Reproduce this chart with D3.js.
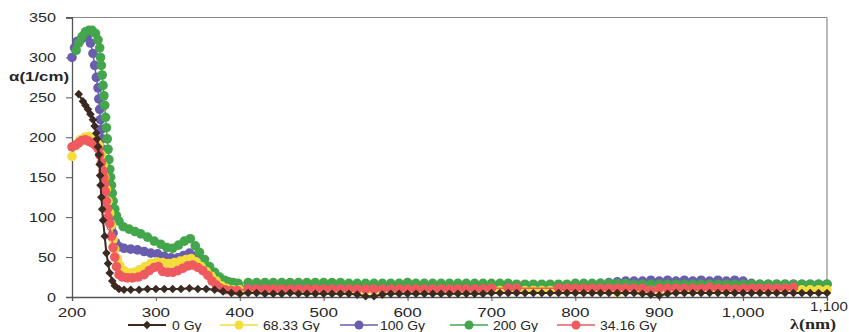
<!DOCTYPE html>
<html>
<head>
<meta charset="utf-8">
<script src="https://cdn.jsdelivr.net/npm/d3@7"></script>
<style>
  html, body { margin: 0; padding: 0; background: #fff; }
  svg { display: block; font-family: "Liberation Sans", Arial, sans-serif; }
</style>
</head>
<body>
<div id="chart"></div>
<script>
// x ticks / y ticks
const xTicks = [200, 300, 400, 500, 600, 700, 800, 900, 1000, 1100];
const yTicks = [0, 50, 100, 150, 200, 250, 300, 350];

// shared wavelength grid for the flat part of the curves
const tailLambda = [410, 420, 430, 440, 450, 460, 470, 480, 490, 500,
  510, 520, 530, 540, 550, 560, 570, 580, 590, 600,
  610, 620, 630, 640, 650, 660, 670, 680, 690, 700,
  710, 720, 730, 740, 750, 760, 770, 780, 790, 800,
  810, 820, 830, 840, 850, 860, 870, 880, 890, 900,
  910, 920, 930, 940, 950, 960, 970, 980, 990, 1000,
  1010, 1020, 1030, 1040, 1050, 1060, 1070, 1080, 1090, 1100];

// 0 Gy
const lambda0 = [208, 213, 216, 219, 222, 225, 227, 229, 230, 231, 232, 233, 233.5, 234, 235, 236, 237, 239, 241, 243, 245, 248, 251, 256, 262, 270, 280, 290, 300, 310, 320, 330, 340, 350, 360, 370, 380, 390, 400];
const alpha0 = [254, 245, 240, 235, 229, 222, 214, 205, 198, 188, 178, 166, 152, 140, 125, 110, 96, 76, 55, 42, 30, 20, 14, 10, 9, 9, 9, 10, 10, 10, 10, 10, 11, 10, 10, 9, 7, 5, 4];
const tail0 = [5, 5, 4, 4, 4, 5, 4, 4, 4, 4,
  4, 4, 4, 3, 1, 1, 3, 4, 4, 4,
  4, 4, 4, 4, 4, 4, 4, 4, 4, 5,
  5, 5, 5, 5, 5, 5, 5, 5, 5, 5,
  5, 5, 5, 5, 5, 5, 5, 4, 3, 2,
  4, 5, 5, 5, 5, 5, 5, 5, 5, 5,
  5, 5, 5, 5, 5, 5, 5, 5, 5, 5];

// 68.33 Gy
const lambda68 = [200, 205, 210, 215, 220, 225, 229, 232, 235, 237, 239, 241, 243, 245, 247, 249, 251, 254, 257, 262, 268, 274, 280, 287, 294, 301, 308, 315, 322, 329, 336, 342, 348, 354, 360, 366, 372, 378, 384, 392, 400];
const alpha68 = [176, 190, 197, 200, 201, 199, 196, 190, 178, 165, 150, 135, 120, 105, 90, 72, 60, 48, 40, 33, 30, 31, 34, 38, 42, 44, 43, 42, 43, 45, 47, 48, 44, 38, 32, 26, 20, 14, 11, 9, 9];
const tail68 = [8, 8, 8, 8, 8, 8, 8, 8, 8, 8,
  8, 8, 8, 8, 8, 8, 8, 8, 8, 8,
  8, 8, 8, 8, 8, 8, 8, 8, 8, 8,
  8, 8, 8, 8, 8, 8, 8, 8, 9, 9,
  9, 9, 9, 8, 6, 8, 8, 8, 8, 9,
  9, 9, 9, 9, 9, 9, 9, 9, 9, 9,
  9, 9, 9, 9, 9, 9, 9, 9, 9, 9];

// 100 Gy
const lambda100 = [200, 203, 206, 210, 214, 218, 222, 225, 227, 229, 231, 232, 233, 234, 235, 236, 237, 238, 239, 240, 241, 242, 243, 245, 247, 249, 252, 256, 262, 270, 278, 286, 294, 302, 310, 318, 326, 333, 340, 346, 352, 358, 364, 370, 376, 382, 388, 394, 400];
const alpha100 = [300, 312, 320, 322, 325, 326, 318, 305, 290, 275, 262, 248, 235, 222, 210, 198, 185, 172, 160, 148, 136, 124, 116, 100, 88, 80, 68, 63, 61, 60, 59, 57, 55, 54, 51, 49, 49, 52, 55, 51, 45, 38, 32, 25, 19, 14, 12, 11, 11];
const tail100 = [12, 12, 12, 12, 12, 12, 12, 12, 12, 12,
  12, 12, 12, 12, 12, 12, 12, 12, 12, 12,
  12, 12, 12, 12, 12, 12, 12, 12, 12, 11,
  10, 10, 10, 10, 9, 9, 9, 9, 10, 11,
  13, 15, 17, 18, 19, 20, 20, 20, 21, 20,
  21, 20, 21, 20, 21, 20, 21, 20, 21, 20,
  17, 16, 16, 16, 16, 16, 16, 16, 16, 16];

// 200 Gy
const lambda200 = [205, 208, 212, 216, 220, 224, 228, 231, 233, 234, 235, 236, 237, 238, 239, 240, 241, 242, 243, 244, 245, 246, 247, 248, 249, 251, 253, 256, 261, 268, 275, 282, 290, 298, 306, 313, 320, 327, 334, 341, 347, 352, 358, 364, 370, 376, 382, 387, 392, 398];
const alpha200 = [309, 318, 326, 332, 334, 334, 330, 322, 312, 300, 290, 278, 265, 252, 240, 225, 212, 198, 185, 172, 160, 150, 140, 130, 120, 110, 102, 95, 88, 85, 82, 79, 75, 70, 66, 62, 61, 65, 70, 73, 64, 56, 47, 38, 31, 25, 21, 19, 18, 17];
const tail200 = [18, 18, 18, 18, 18, 18, 18, 18, 18, 18,
  18, 18, 17, 17, 17, 17, 17, 17, 17, 18,
  17, 17, 17, 17, 17, 17, 17, 17, 17, 17,
  17, 17, 16, 16, 16, 16, 16, 16, 16, 17,
  17, 17, 17, 17, 17, 17, 16, 16, 16, 16,
  16, 16, 16, 16, 16, 16, 16, 16, 16, 16,
  16, 16, 16, 16, 16, 16, 16, 16, 16, 16];

// 34.16 Gy
const lambda34 = [200, 204, 208, 212, 216, 220, 224, 228, 231, 233, 235, 237, 238, 239, 240, 241, 242, 243, 245, 247, 249, 251, 253, 256, 260, 266, 272, 279, 286, 292, 298, 303, 308, 314, 320, 326, 332, 338, 344, 350, 356, 362, 367, 372, 377, 383, 390, 397];
const alpha34 = [188, 190, 193, 196, 197, 195, 193, 190, 186, 178, 168, 158, 150, 142, 132, 120, 110, 100, 92, 76, 62, 50, 38, 28, 25, 24, 24, 25, 28, 33, 37, 38, 32, 31, 31, 33, 36, 39, 40, 37, 33, 27, 20, 15, 11, 9, 8, 8];
const tail34 = [10, 10, 10, 10, 10, 10, 10, 10, 10, 10,
  10, 10, 10, 10, 10, 10, 10, 10, 10, 10,
  10, 10, 10, 10, 10, 10, 10, 10, 10, 11,
  null, 11, 11, null, null, null, null, 11, 11, 11,
  11, 11, 11, 11, 11, 11, 11, 11, 8, 11,
  11, 11, 11, 11, 11, 12, 11, 11, 10, 11,
  11, 11, 11, 11, 11, 12, null, null, null, null];

const seriesNames = ["0 Gy", "68.33 Gy", "100 Gy", "200 Gy", "34.16 Gy"];
const seriesColors = ["#3b2a22", "#f3dd3a", "#6a5cae", "#44a64c", "#ee5a5e"];

function joinSeries(lam, vals, tail) {
  const pts = lam.map((l, i) => [l, vals[i]]);
  tailLambda.forEach((l, i) => { if (tail[i] != null) pts.push([l, tail[i]]); });
  return pts;
}

const series = [
  {name: seriesNames[0], color: seriesColors[0], marker: "diamond", pts: joinSeries(lambda0, alpha0, tail0)},
  {name: seriesNames[1], color: seriesColors[1], marker: "circle", pts: joinSeries(lambda68, alpha68, tail68)},
  {name: seriesNames[2], color: seriesColors[2], marker: "circle", pts: joinSeries(lambda100, alpha100, tail100)},
  {name: seriesNames[3], color: seriesColors[3], marker: "circle", pts: joinSeries(lambda200, alpha200, tail200)},
  {name: seriesNames[4], color: seriesColors[4], marker: "circle", pts: joinSeries(lambda34, alpha34, tail34)}
];
// order in which they are painted (last on top)
const drawOrder = [2, 3, 1, 4, 0];

const W = 849, H = 332;
const svg = d3.select("#chart").append("svg")
  .attr("width", W).attr("height", H);

const x = d3.scaleLinear().domain([200, 1100]).range([72, 827]);
const y = d3.scaleLinear().domain([0, 350]).range([297, 17.5]);

// frame
svg.append("line").attr("x1", 66).attr("x2", 827).attr("y1", y(350)).attr("y2", y(350))
  .attr("stroke", "#8a8a8a").attr("stroke-width", 1.2);
svg.append("line").attr("x1", 827).attr("x2", 827).attr("y1", y(350)).attr("y2", y(0))
  .attr("stroke", "#8a8a8a").attr("stroke-width", 1.2);

// y axis
const yAxis = svg.append("g").attr("transform", `translate(${x(200)},0)`)
  .call(d3.axisLeft(y).tickValues(yTicks).tickSize(6).tickFormat(""));
yAxis.select(".domain").attr("stroke", "#555").attr("stroke-width", 1.3);
yAxis.selectAll(".tick line").attr("stroke", "#555");

svg.append("g").selectAll("text").data(yTicks).join("text")
  .attr("transform", d => `translate(56,${y(d) + 4.5}) scale(1.35,1)`)
  .attr("text-anchor", "end")
  .attr("font-size", 12).attr("fill", "#262626")
  .text(d => d);

// x axis
const xAxis = svg.append("g").attr("transform", `translate(0,${y(0)})`)
  .call(d3.axisBottom(x).tickValues(xTicks).tickSize(4).tickFormat(""));
xAxis.select(".domain").attr("stroke", "#555").attr("stroke-width", 1.3);
xAxis.selectAll(".tick line").attr("stroke", "#555");

svg.append("g").selectAll("text").data(xTicks).join("text")
  .attr("transform", d => `translate(${x(d) + (d === 1100 ? 2 : 0)},${d === 1100 ? 311 : 317}) scale(${d === 1100 ? 1.12 : 1.26},1)`)
  .attr("text-anchor", "middle")
  .attr("font-size", 13.5).attr("fill", "#262626")
  .text(d => d3.format(",")(d));

// axis titles
svg.append("text")
  .attr("transform", "translate(9,81) scale(1.3,1)")
  .attr("font-size", 13).attr("font-weight", "bold").attr("fill", "#262626")
  .text("α(1/cm)");
svg.append("text")
  .attr("transform", "translate(790,329) scale(1.25,1)")
  .attr("font-family", "'Liberation Serif', 'Times New Roman', serif")
  .attr("font-size", 14.5).attr("font-weight", "bold").attr("fill", "#262626")
  .text("λ(nm)");

const line = d3.line().x(d => x(d[0])).y(d => y(d[1]));
const diamond = "M0,-4.3L4.3,0L0,4.3L-4.3,0Z";

const plot = svg.append("g");
drawOrder.forEach(i => {
  const s = series[i];
  const g = plot.append("g");
  g.append("path").datum(s.pts)
    .attr("d", line).attr("fill", "none")
    .attr("stroke", s.color).attr("stroke-width", s.marker === "diamond" ? 2 : 1.5);
  if (s.marker === "diamond") {
    g.selectAll("path.m").data(s.pts).join("path").attr("class", "m")
      .attr("d", diamond)
      .attr("transform", d => `translate(${x(d[0])},${y(d[1])})`)
      .attr("fill", s.color);
  } else {
    g.selectAll("circle").data(s.pts).join("circle")
      .attr("cx", d => x(d[0])).attr("cy", d => y(d[1]))
      .attr("r", 4.8).attr("fill", s.color);
  }
});

// legend
const legendX = [128, 220, 340, 450, 557];
const legendTextX = [172, 263, 380, 493, 600];
const ly = 325;
series.forEach((s, i) => {
  const g = svg.append("g");
  g.append("line").attr("x1", legendX[i]).attr("x2", legendX[i] + 38)
    .attr("y1", ly).attr("y2", ly).attr("stroke", s.color).attr("stroke-width", s.marker === "diamond" ? 2 : 1.5);
  if (s.marker === "diamond") {
    g.append("path").attr("d", diamond).attr("transform", `translate(${legendX[i] + 19},${ly})`).attr("fill", s.color);
  } else {
    g.append("circle").attr("cx", legendX[i] + 19).attr("cy", ly).attr("r", 4.5).attr("fill", s.color);
  }
  g.append("text")
    .attr("transform", `translate(${legendTextX[i]},${ly + 4.5}) scale(1.12,1)`)
    .attr("font-size", 12.5).attr("fill", "#262626")
    .text(s.name);
});
</script>
</body>
</html>
